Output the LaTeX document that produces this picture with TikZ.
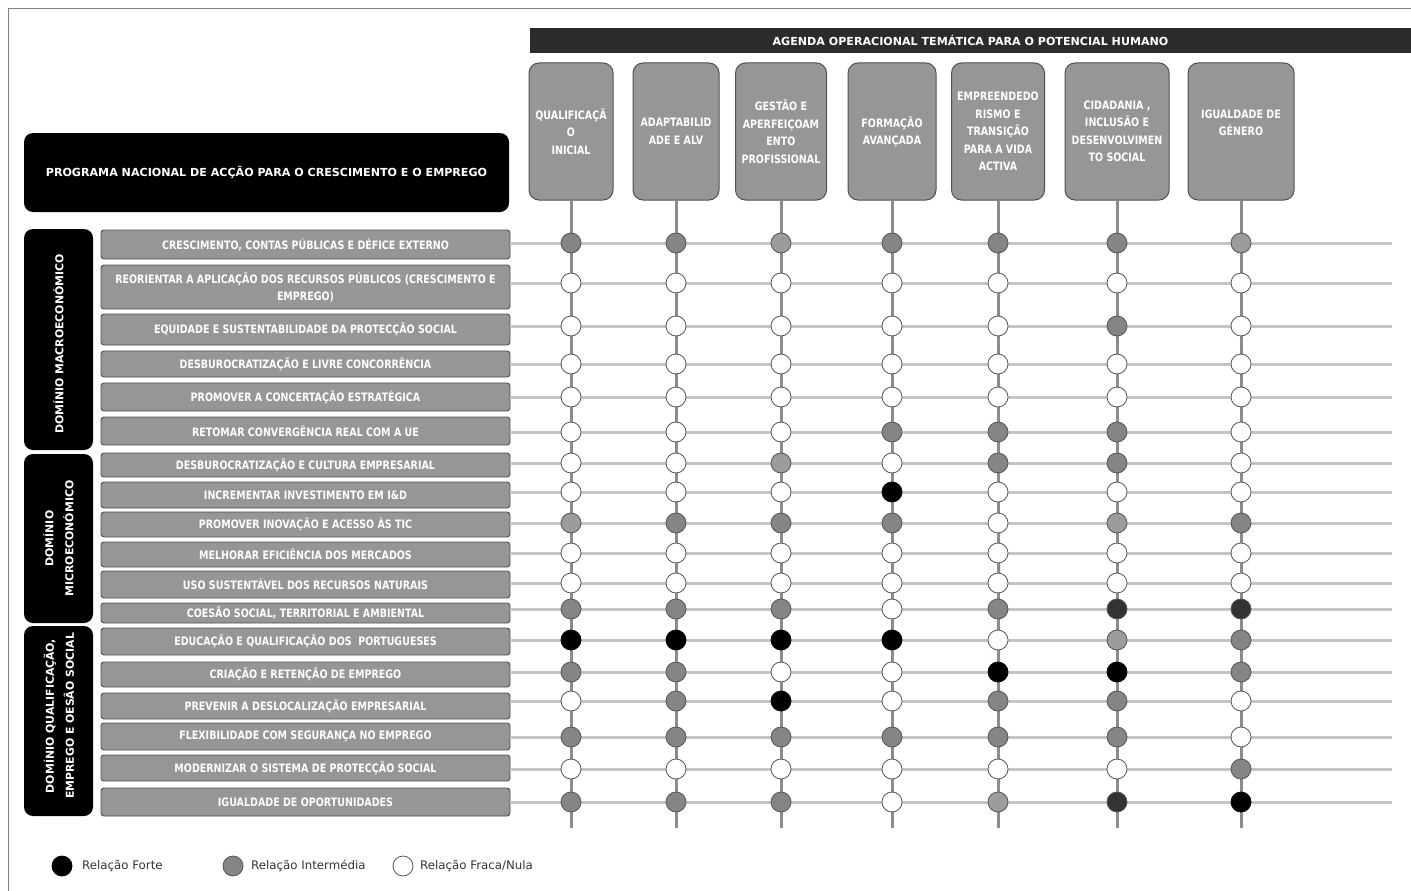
\documentclass[tikz,border=0pt]{standalone}
\usepackage{fontspec}
\setmainfont{DejaVu Sans}
\newfontfamily\cfont[FakeStretch=0.82]{DejaVu Sans}
\definecolor{boxgray}{HTML}{969696}
\definecolor{rowedge}{HTML}{505050}
\definecolor{hgray}{HTML}{C4C4C4}
\definecolor{vgray}{HTML}{8C8C8C}
\definecolor{midgray}{HTML}{858585}
\definecolor{lightgray2}{HTML}{9C9C9C}
\definecolor{darkgray2}{HTML}{333333}
\definecolor{circedge}{HTML}{555555}
\definecolor{barfill}{HTML}{2B2B2B}
\definecolor{legtext}{HTML}{333333}
\definecolor{framegray}{HTML}{808080}
\newcommand\crow[2]{\foreach \cl [count=\j] in {#2} {\node[circ\cl] (c-#1-\j) at (x\j |- y#1) {};}}
\begin{document}
\begin{tikzpicture}[x=1pt,y=-1pt,
  rowbox/.style={draw=rowedge, fill=boxgray, rounded corners=3pt, minimum width=409pt, inner sep=0pt, text=white, font=\cfont\bfseries\fontsize{11.6}{17}\selectfont, align=center, line width=0.9pt},
  colbox/.style={draw=rowedge, fill=boxgray, rounded corners=10pt, minimum height=137pt, inner sep=0pt, text=white, font=\cfont\bfseries\fontsize{11.6}{17.5}\selectfont, align=center, line width=1pt},
  blackbox/.style={fill=black, rounded corners=9pt, inner sep=0pt, text=white, align=center},
  domlabel/.style={text=white, rotate=90, align=center, font=\bfseries\fontsize{10.9}{20}\selectfont},
  circ/.style={circle, minimum size=20pt, inner sep=0pt, draw=circedge, line width=0.8pt},
  circw/.style={circ, fill=white},
  circg/.style={circ, fill=midgray},
  circl/.style={circ, fill=lightgray2},
  circd/.style={circ, fill=darkgray2},
  circb/.style={circ, fill=black, draw=black},
  hline/.style={draw=hgray, line width=3pt},
  vline/.style={draw=vgray, line width=3pt},
  legtxt/.style={anchor=west, text=legtext, inner sep=0pt, font=\fontsize{11.8}{13}\selectfont},
  framel/.style={draw=framegray, line width=0.8pt}
]
\useasboundingbox (0,0) rectangle (1411,891);
\draw[framel] (8,891) -- (8,8) -- (1411,8);

% coordinates
\foreach \j/\xx in {1/571,2/676,3/781,4/892,5/998,6/1117,7/1241} \coordinate (x\j) at (\xx,0);
\foreach \i/\yy in {1/243,2/283,3/326,4/364,5/397,6/432,7/463,8/492,9/523,10/553,11/583,12/609,13/640,14/672,15/701,16/737,17/769,18/802} \coordinate (y\i) at (0,\yy);
\coordinate (xe) at (1392,0);
\coordinate (yb) at (0,828);

% header bar
\node[fill=barfill, minimum width=881pt, minimum height=25pt, inner sep=0pt, text=white, font=\bfseries\fontsize{11.1}{13}\selectfont] (bar) at (970.5,40.5) {AGENDA OPERACIONAL TEMÁTICA PARA O POTENCIAL HUMANO};

% column headers
\node[colbox, minimum width=84pt] (h1) at (x1 |- 0,131.5) {QUALIFICAÇÃ\\O\\INICIAL};
\node[colbox, minimum width=86pt] (h2) at (x2 |- 0,131.5) {ADAPTABILID\\ADE E ALV};
\node[colbox, minimum width=91pt] (h3) at (x3 |- 0,131.5) {GESTÃO E\\APERFEIÇOAM\\ENTO\\PROFISSIONAL};
\node[colbox, minimum width=88pt] (h4) at (x4 |- 0,131.5) {FORMAÇÃO\\AVANÇADA};
\node[colbox, minimum width=93pt] (h5) at (x5 |- 0,131.5) {EMPREENDEDO\\RISMO E\\TRANSIÇÃO\\PARA A VIDA\\ACTIVA};
\node[colbox, minimum width=104pt] (h6) at (x6 |- 0,131.5) {CIDADANIA ,\\INCLUSÃO E\\DESENVOLVIMEN\\TO SOCIAL};
\node[colbox, minimum width=106pt] (h7) at (x7 |- 0,131.5) {IGUALDADE DE\\GÉNERO\\\mbox{}};

% program box
\node[blackbox, minimum width=485pt, minimum height=79pt, font=\bfseries\fontsize{11.1}{13}\selectfont] (prog) at (266.5,172.5) {PROGRAMA NACIONAL DE ACÇÃO PARA O CRESCIMENTO E O EMPREGO};

% domain boxes
\node[blackbox, minimum width=69pt, minimum height=221pt] (dmacro) at (58.5,339.5) {};
\node[domlabel] (lmacro) at (58.5,344) {DOMÍNIO MACROECONÓMICO};
\node[blackbox, minimum width=69pt, minimum height=169pt] (dmicro) at (58.5,538.5) {};
\node[domlabel] (lmicro) at (58.5,538.5) {DOMÍNIO\\MICROECONÓMICO};
\node[blackbox, minimum width=69pt, minimum height=190pt] (dqual) at (58.5,721) {};
\node[domlabel] (lqual) at (59,716) {DOMÍNIO QUALIFICAÇÃO,\\EMPREGO E OESÃO SOCIAL};

% row boxes
\node[rowbox, minimum height=29pt] (r1) at (305.5,244.5) {CRESCIMENTO, CONTAS PÚBLICAS E DÉFICE EXTERNO};
\node[rowbox, minimum height=44pt] (r2) at (305.5,287) {REORIENTAR A APLICAÇÃO DOS RECURSOS PÚBLICOS (CRESCIMENTO E\\EMPREGO)};
\node[rowbox, minimum height=31pt] (r3) at (305.5,329.5) {EQUIDADE E SUSTENTABILIDADE DA PROTECÇÃO SOCIAL};
\node[rowbox, minimum height=26pt] (r4) at (305.5,364) {DESBUROCRATIZAÇÃO E LIVRE CONCORRÊNCIA};
\node[rowbox, minimum height=28pt] (r5) at (305.5,397) {PROMOVER A CONCERTAÇÃO ESTRATÉGICA};
\node[rowbox, minimum height=28pt] (r6) at (305.5,431) {RETOMAR CONVERGÊNCIA REAL COM A UE};
\node[rowbox, minimum height=24pt] (r7) at (305.5,465) {DESBUROCRATIZAÇÃO E CULTURA EMPRESARIAL};
\node[rowbox, minimum height=26pt] (r8) at (305.5,495) {INCREMENTAR INVESTIMENTO EM I\&D};
\node[rowbox, minimum height=25pt] (r9) at (305.5,524.5) {PROMOVER INOVAÇÃO E ACESSO ÀS TIC};
\node[rowbox, minimum height=25pt] (r10) at (305.5,554.5) {MELHORAR EFICIÊNCIA DOS MERCADOS};
\node[rowbox, minimum height=27pt] (r11) at (305.5,584.5) {USO SUSTENTÁVEL DOS RECURSOS NATURAIS};
\node[rowbox, minimum height=20pt] (r12) at (305.5,613) {COESÃO SOCIAL, TERRITORIAL E AMBIENTAL};
\node[rowbox, minimum height=27pt] (r13) at (305.5,641.5) {EDUCAÇÃO E QUALIFICAÇÃO DOS \ PORTUGUESES};
\node[rowbox, minimum height=25pt] (r14) at (305.5,674.5) {CRIAÇÃO E RETENÇÃO DE EMPREGO};
\node[rowbox, minimum height=26pt] (r15) at (305.5,706) {PREVENIR A DESLOCALIZAÇÃO EMPRESARIAL};
\node[rowbox, minimum height=27pt] (r16) at (305.5,736.5) {FLEXIBILIDADE COM SEGURANÇA NO EMPREGO};
\node[rowbox, minimum height=26pt] (r17) at (305.5,768) {MODERNIZAR O SISTEMA DE PROTECÇÃO SOCIAL};
\node[rowbox, minimum height=28pt] (r18) at (305.5,802) {IGUALDADE DE OPORTUNIDADES};

% grid lines
\foreach \i in {1,...,18} \draw[hline] (r\i.east |- y\i) -- (xe |- y\i);
\foreach \j in {1,...,7} \draw[vline] (h\j.south) -- (x\j |- yb);

% circles
\crow{1}{g,g,l,g,g,g,l}
\crow{2}{w,w,w,w,w,w,w}
\crow{3}{w,w,w,w,w,g,w}
\crow{4}{w,w,w,w,w,w,w}
\crow{5}{w,w,w,w,w,w,w}
\crow{6}{w,w,w,g,g,g,w}
\crow{7}{w,w,l,w,g,g,w}
\crow{8}{w,w,w,b,w,w,w}
\crow{9}{l,g,g,g,w,l,g}
\crow{10}{w,w,w,w,w,w,w}
\crow{11}{w,w,w,w,w,w,w}
\crow{12}{g,g,g,w,g,d,d}
\crow{13}{b,b,b,b,w,l,g}
\crow{14}{g,g,w,w,b,b,g}
\crow{15}{w,g,b,w,g,g,w}
\crow{16}{g,g,g,g,g,g,w}
\crow{17}{w,w,w,w,w,w,g}
\crow{18}{g,g,g,w,l,d,b}

% legend
\node[circb] (l1) at (62,866) {};
\node[legtxt] (t1) at (82,866) {Relação Forte};
\node[circg] (l2) at (233,866) {};
\node[legtxt] (t2) at (251,866) {Relação Intermédia};
\node[circw] (l3) at (403,866) {};
\node[legtxt] (t3) at (420,866) {Relação Fraca/Nula};
\end{tikzpicture}
\end{document}
